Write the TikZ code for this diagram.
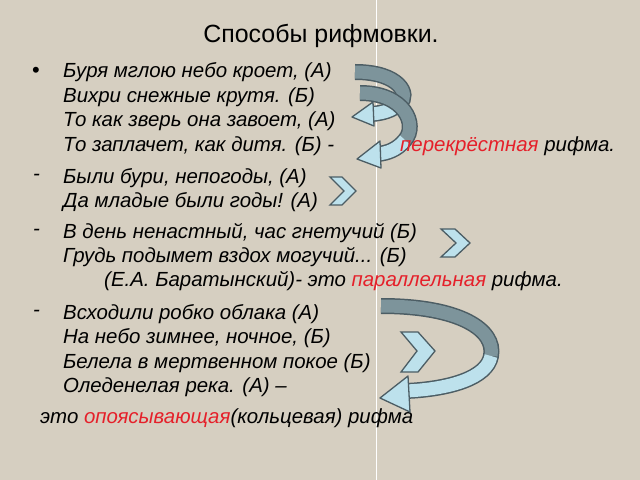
\documentclass[tikz,border=0pt]{standalone}
\usepackage{fontspec}
\setmainfont{Liberation Sans}
\begin{document}
\begin{tikzpicture}[x=1bp,y=-1bp,
  verse/.style={anchor=west,inner sep=0pt,font=\fontsize{20.5}{24}\selectfont\itshape},
  bord/.style={line width=16bp,draw=bordc},
  dark/.style={line width=13bp,draw=darkc},
  light/.style={line width=13bp,draw=lightc},
  head/.style={fill=lightc,draw=bordc,line width=1.3bp,line join=round},
  chev/.style={fill=lightc,draw=bordc,line width=1.3bp,line join=miter}]
\definecolor{bg}{HTML}{D6CFC1}
\definecolor{redtxt}{HTML}{E5202A}
\definecolor{bordc}{HTML}{4C5D64}
\definecolor{darkc}{HTML}{7D949B}
\definecolor{lightc}{HTML}{BDE1EC}
\fill[bg] (0,0) rectangle (640,480);
\useasboundingbox (0,0) rectangle (640,480);
\draw[white,line width=1bp] (376,0) -- (376,480);
\node[inner sep=0pt,font=\fontsize{25}{28}\selectfont] (title) at (321,36) {Способы рифмовки.};
\node[verse,font=\fontsize{22}{24}\selectfont] (b1) at (32,72) {•};
\node[verse] (l1) at (63,72) {Буря мглою небо кроет, (А)};
\node[verse] (l2) at (63,97) {Вихри снежные крутя. (Б)};
\node[verse] (l3) at (63,121) {То как зверь она завоет, (А)};
\node[verse] (l4) at (63,146) {То заплачет, как дитя. (Б) -};
\node[verse] (d1) at (33,177) {-};
\node[verse] (l5) at (63,178) {Были бури, непогоды, (А)};
\node[verse] (l6) at (63,202) {Да младые были годы! (А)};
\node[verse] (d2) at (33,232) {-};
\node[verse] (l7) at (63,233) {В день ненастный, час гнетучий (Б)};
\node[verse] (l8) at (63,257) {Грудь подымет вздох могучий... (Б)};
\node[verse] (l9) at (104,281) {(Е.А. Баратынский)- это \textcolor{redtxt}{параллельная} рифма.};
\node[verse] (d3) at (33,313) {-};
\node[verse] (l10) at (63,314) {Всходили робко облака (А)};
\node[verse] (l11) at (63,338) {На небо зимнее, ночное, (Б)};
\node[verse] (l12) at (63,363) {Белела в мертвенном покое (Б)};
\node[verse] (l13) at (63,387) {Оледенелая река. (А) –};
\node[verse] (l14) at (40,418) {это \textcolor{redtxt}{опоясывающая}(кольцевая) рифма};
% arrow 1
\draw[bord] (355,72) .. controls (400,72) and (410,95) .. (400,103) .. controls (392,111) and (382,113) .. (372,114);
\draw[dark] (355,72) .. controls (400,72) and (410,95) .. (400,103);
\draw[light] (400,103) .. controls (392,111) and (382,113) .. (372,114);
\draw[head] (373,102) -- (352,117) -- (374,126) -- cycle;
% arrow 2
\draw[bord] (360,93) .. controls (405,93) and (418,125) .. (405,140) .. controls (397,150) and (387,153) .. (378,154);
\draw[dark] (360,93) .. controls (405,93) and (418,125) .. (405,140);
\draw[light] (405,140) .. controls (397,150) and (387,153) .. (378,154);
\draw[head] (380,141) -- (357,159) -- (381,168) -- cycle;
% arrow 3
\draw[bord] (381,306) .. controls (460,306) and (496,330) .. (491,356) .. controls (487,378) and (450,389) .. (406,391);
\draw[dark] (381,306) .. controls (460,306) and (496,330) .. (491,356);
\draw[light] (491,356) .. controls (487,378) and (450,389) .. (406,391);
\draw[head] (408,376) -- (380,398) -- (410,412) -- cycle;
\node[verse] (l4b) at (400,146) {\textcolor{redtxt}{перекрёстная} рифма.};
% chevrons
\draw[chev] (330,177) -- (342,177) -- (356,191) -- (342,205) -- (330,205) -- (344,191) -- cycle;
\draw[chev] (441,229) -- (455,229) -- (470,243) -- (455,257) -- (441,257) -- (456,243) -- cycle;
\draw[chev] (401,332) -- (418,332) -- (435,351) -- (418,372) -- (401,372) -- (417,351) -- cycle;
\end{tikzpicture}
\end{document}
